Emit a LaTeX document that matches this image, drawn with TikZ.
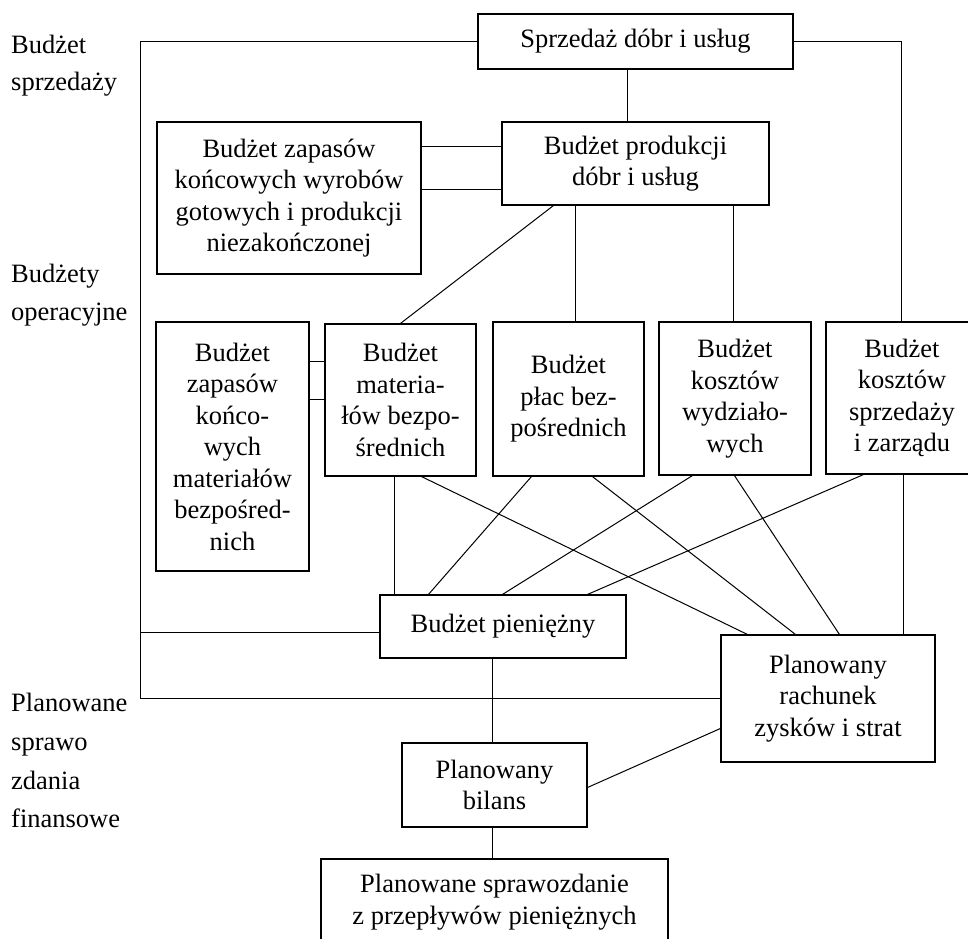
\documentclass[tikz,border=0pt]{standalone}
\usepackage{fontspec}
\setmainfont{Liberation Serif}
\usetikzlibrary{calc}
\tikzset{
  box/.style={draw, line width=1.1pt, inner sep=0pt, align=center,
    font=\fontsize{26.5}{31.5}\selectfont},
  lab/.style={anchor=base west, inner sep=0pt, font=\fontsize{26.5}{31.5}\selectfont},
  conn/.style={line width=1pt}
}
\begin{document}
\begin{tikzpicture}[x=1pt,y=-1pt]
\useasboundingbox (0,0) rectangle (968,938);
\clip (0,0) rectangle (968,938);
\fill[white] (0,0) rectangle (968,938);

% left labels
\node[lab] (l1) at (11,53) {Budżet};
\node[lab] (l2) at (11,90) {sprzedaży};
\node[lab] (l3) at (11,282) {Budżety};
\node[lab] (l4) at (11,320) {operacyjne};
\node[lab] (l5) at (11,711) {Planowane};
\node[lab] (l6) at (11,750) {sprawo};
\node[lab] (l7) at (11,789) {zdania};
\node[lab] (l8) at (11,827) {finansowe};

% boxes
\node[box, minimum width=315pt, minimum height=55pt] (top) at (635.5,41.5) {Sprzedaż dóbr i usług};
\node[box, minimum width=267pt, minimum height=83pt] (prod) at (635.5,163.5) {Budżet produkcji\\dóbr i usług};
\node[box, minimum width=264pt, minimum height=152pt] (zapw) at (289,198) {Budżet zapasów\\końcowych wyrobów\\gotowych i produkcji\\niezakończonej};
\node[box, minimum width=153pt, minimum height=249pt] (zapm) at (232.5,446.5) {Budżet\\zapasów\\końco-\\wych\\materiałów\\bezpośred-\\nich};
\node[box, minimum width=151pt, minimum height=152pt] (mat) at (400.5,400) {Budżet\\materia-\\łów bezpo-\\średnich};
\node[box, minimum width=151pt, minimum height=154pt] (plac) at (568.5,399) {Budżet\\płac bez-\\pośrednich};
\node[box, minimum width=152pt, minimum height=153pt] (wydz) at (735,398.5) {Budżet\\kosztów\\wydziało-\\wych};
\node[box, minimum width=152pt, minimum height=152pt] (sprz) at (902,398) {Budżet\\kosztów\\sprzedaży\\i zarządu};
\node[box, minimum width=246pt, minimum height=63pt] (pien) at (503,626.5) {Budżet pieniężny};
\node[box, minimum width=214pt, minimum height=127pt] (rach) at (828,698.5) {Planowany\\rachunek\\zysków i strat};
\node[box, minimum width=185pt, minimum height=84pt] (bil) at (494.5,785) {Planowany\\bilans};
\node[box, minimum width=347pt, minimum height=86pt] (last) at (494.5,902) {Planowane sprawozdanie\\z przepływów pieniężnych};

% outer frame lines
\coordinate (LB) at (140,698);
\draw[conn] (top.west) -| (LB) -- (LB -| rach.west);
\draw[conn] ($(pien.north west)+(0,38)$) coordinate (pw) -- (pw -| LB);
\coordinate (RT) at ($(sprz.north west)+(76,0)$);
\draw[conn] (top.east) -| (RT);

% top part
\draw[conn] ($(top.south west)+(150,0)$) -- ($(prod.north west)+(126,0)$);
\draw[conn] ($(zapw.north east)+(0,25)$) coordinate (z1) -- (z1 -| prod.west);
\draw[conn] ($(zapw.north east)+(0,68)$) coordinate (z2) -- (z2 -| prod.west);
\draw[conn] ($(prod.south west)+(52,0)$) -- ($(mat.north west)+(76,0)$);
\draw[conn] ($(prod.south west)+(74,0)$) -- ($(plac.north west)+(83,0)$);
\draw[conn] ($(prod.south west)+(232,0)$) -- ($(wydz.north west)+(75,0)$);

% zapasy materialow - materialy
\draw[conn] ($(zapm.north east)+(0,40)$) coordinate (m1) -- (m1 -| mat.west);
\draw[conn] ($(zapm.north east)+(0,78)$) coordinate (m2) -- (m2 -| mat.west);

% middle crossing lines
\draw[conn] ($(mat.south west)+(70,0)$) -- ($(pien.north west)+(15,0)$);
\draw[conn] ($(mat.south west)+(97,0)$) -- ($(rach.north west)+(27,0)$);
\draw[conn] ($(plac.south west)+(39,0)$) -- ($(pien.north west)+(49,0)$);
\draw[conn] ($(plac.south west)+(100,0)$) -- ($(rach.north west)+(75,0)$);
\draw[conn] ($(wydz.south west)+(34,0)$) -- ($(pien.north west)+(123,0)$);
\draw[conn] ($(wydz.south west)+(76,0)$) -- ($(rach.north west)+(119,0)$);
\draw[conn] ($(sprz.south west)+(38,0)$) -- ($(pien.north west)+(208,0)$);
\draw[conn] ($(sprz.south west)+(78,0)$) -- ($(rach.north west)+(183,0)$);

% bottom part
\draw[conn] ($(pien.south west)+(113,0)$) -- ($(bil.north west)+(91,0)$);
\draw[conn] ($(bil.north east)+(0,45)$) -- ($(rach.north west)+(0,94)$);
\draw[conn] ($(bil.south west)+(91,0)$) -- ($(last.north west)+(172,0)$);
\end{tikzpicture}
\end{document}
